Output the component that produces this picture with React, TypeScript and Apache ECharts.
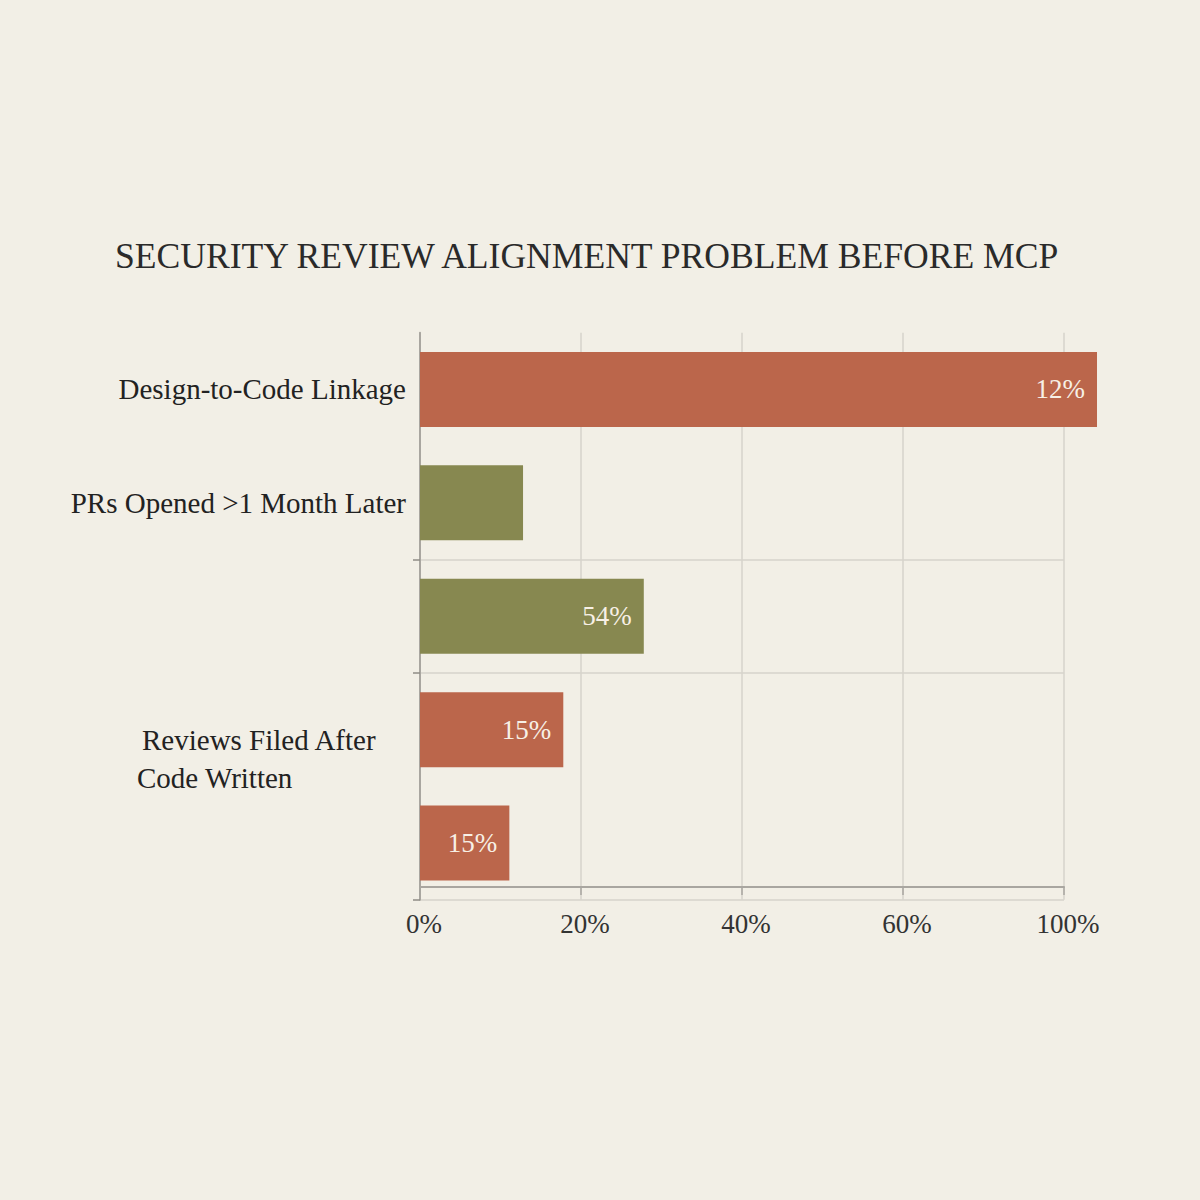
import React, { useEffect, useRef } from "react";
import * as echarts from "echarts";

const titleText = "SECURITY REVIEW ALIGNMENT PROBLEM BEFORE MCP";
const categories = [
  "Design-to-Code Linkage",
  "PRs Opened >1 Month Later",
  "",
  "Reviews Filed After\nCode Written",
  "",
];
const values = [84.1, 12.8, 27.8, 17.8, 11.1];
const barLabels = ["12%", "", "54%", "15%", "15%"];
const barColors = ["#bb664b", "#878850", "#878850", "#bb664b", "#bb664b"];
const xTickValues = [0, 20, 40, 60, 80];
const xTickLabels = ["0%", "20%", "40%", "60%", "100%"];

const FONT = "Liberation Serif";

export default function App() {
  const ref = useRef<HTMLDivElement>(null);
  useEffect(() => {
    if (!ref.current) return;
    const chart = echarts.init(ref.current, undefined, { renderer: "svg" });
    chart.setOption({
      animation: false,
      backgroundColor: "#f2efe6",
      title: {
        text: titleText,
        left: 110,
        top: 233,
        textStyle: { fontFamily: FONT, fontSize: 35.6, fontWeight: "normal", color: "#2a2a2a" },
      },
      grid: { left: 420, right: 136, top: 332.8, bottom: 300.3, containLabel: false },
      xAxis: {
        type: "value",
        min: 0,
        max: 80,
        interval: 20,
        offset: -12.7,
        axisLine: { show: true, lineStyle: { color: "#a9a6a0", width: 2 } },
        axisTick: { show: true, length: 8, lineStyle: { color: "#a9a6a0", width: 1.5 } },
        splitLine: { show: true, lineStyle: { color: "#d6d3cb", width: 1.5 } },
        axisLabel: {
          margin: 23,
          padding: [0, 0, 0, 8],
          fontFamily: FONT,
          fontSize: 27,
          color: "#333",
          formatter: (v: number) => {
            const i = xTickValues.indexOf(v);
            return i >= 0 ? xTickLabels[i] : "";
          },
        },
      },
      yAxis: {
        type: "category",
        inverse: true,
        data: categories,
        axisLine: { show: true, lineStyle: { color: "#a9a6a0", width: 2 } },
        axisTick: {
          show: true,
          length: 7,
          interval: (i: number) => i === 2 || i === 3,
          lineStyle: { color: "#8f8c86", width: 1.5 },
        },
        splitLine: {
          show: true,
          interval: (i: number) => i === 2 || i === 3,
          lineStyle: { color: "#d6d3cb", width: 1.5 },
        },
        axisLabel: {
          interval: 0,
          margin: 14,
          fontFamily: FONT,
          fontSize: 29,
          color: "#222",
          formatter: (v: string, i: number) => {
            if (i === 3) {
              const parts = v.split("\n");
              return "{s| }\n{l|" + parts[0] + "}\n{m|" + parts[1] + "}";
            }
            return v;
          },
          rich: {
            s: { fontSize: 10, lineHeight: 59 },
            l: { fontFamily: FONT, fontSize: 29, color: "#222", width: 264, align: "left", padding: [0, 0, 0, 5], lineHeight: 38 },
            m: { fontFamily: FONT, fontSize: 29, color: "#222", width: 269, align: "left", lineHeight: 38 },
          },
        },
      },
      series: [
        {
          type: "bar",
          clip: false,
          barWidth: 75,
          data: values.map((v, i) => ({ value: v, itemStyle: { color: barColors[i] } })),
          label: {
            show: true,
            position: "insideRight",
            distance: 12,
            fontFamily: FONT,
            fontSize: 27,
            color: "#f7f0e6",
            formatter: (p: any) => barLabels[p.dataIndex],
          },
        },
      ],
    });
    return () => chart.dispose();
  }, []);
  return (
    <div
      ref={ref}
      style={{ position: "fixed", left: 0, top: 0, width: 1200, height: 1200 }}
    />
  );
}
